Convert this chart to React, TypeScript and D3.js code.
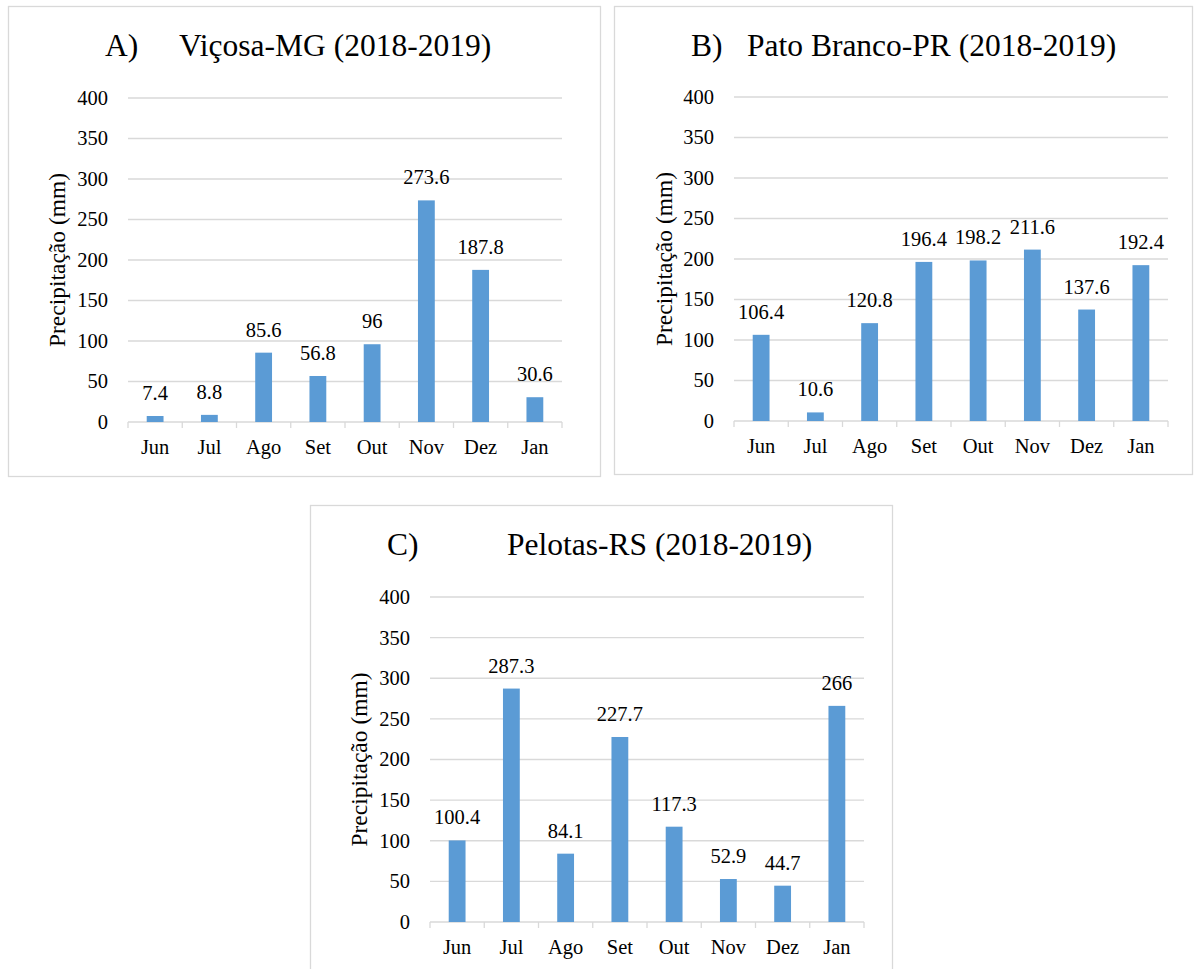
import React from "react";
import * as d3 from "d3";

const months = ["Jun", "Jul", "Ago", "Set", "Out", "Nov", "Dez", "Jan"];
const yTicks = [0, 50, 100, 150, 200, 250, 300, 350, 400];
const vicosa = [7.4, 8.8, 85.6, 56.8, 96, 273.6, 187.8, 30.6];
const patoBranco = [106.4, 10.6, 120.8, 196.4, 198.2, 211.6, 137.6, 192.4];
const pelotas = [100.4, 287.3, 84.1, 227.7, 117.3, 52.9, 44.7, 266];

const FONT = "Liberation Serif, Times New Roman, serif";
const BAR = "#5B9BD5";
const GRID = "#D9D9D9";
const SMALL = 20.5;

type PanelProps = {
  letter: string;
  title: string;
  values: number[];
  box: { x: number; y: number; w: number; h: number };
  plot: { x0: number; x1: number; yTop: number; yBottom: number };
  letterX: number;
  titleX: number;
  titleY: number;
  yLabelX: number;
};

function Panel({ letter, title, values, box, plot, letterX, titleX, titleY, yLabelX }: PanelProps) {
  const x = d3.scaleBand<string>().domain(months).range([plot.x0, plot.x1]).paddingInner(0).paddingOuter(0);
  const y = d3.scaleLinear().domain([0, 400]).range([plot.yBottom, plot.yTop]);
  const bw = x.bandwidth() * 0.31;
  return (
    <g>
      <rect x={box.x + 0.5} y={box.y + 0.5} width={box.w} height={box.h} fill="white" stroke={GRID} strokeWidth={1.3} />
      <text x={letterX} y={titleY} fontFamily={FONT} fontSize={31.5} fill="#000">{letter}</text>
      <text x={titleX} y={titleY} fontFamily={FONT} fontSize={31.5} fill="#000">{title}</text>
      {yTicks.map((t) => (
        <g key={t}>
          <line x1={plot.x0} x2={plot.x1} y1={y(t)} y2={y(t)} stroke={GRID} strokeWidth={1.3} />
          <text x={plot.x0 - 20} y={y(t)} dy="0.34em" textAnchor="end" fontFamily={FONT} fontSize={SMALL} fill="#000">{t}</text>
        </g>
      ))}
      {d3.range(months.length + 1).map((i) => {
        const xx = plot.x0 + i * x.bandwidth();
        return <line key={i} x1={xx} x2={xx} y1={plot.yBottom} y2={plot.yBottom + 6} stroke={GRID} strokeWidth={1.3} />;
      })}
      {months.map((m, i) => {
        const cx = (x(m) as number) + x.bandwidth() / 2;
        return (
          <g key={m}>
            <rect x={cx - bw / 2} y={y(values[i])} width={bw} height={plot.yBottom - y(values[i])} fill={BAR} />
            <text x={cx} y={y(values[i]) - 16} textAnchor="middle" fontFamily={FONT} fontSize={SMALL} fill="#000">{values[i]}</text>
            <text x={cx} y={plot.yBottom + 32} textAnchor="middle" fontFamily={FONT} fontSize={SMALL} fill="#000">{m}</text>
          </g>
        );
      })}
      <text
        transform={`translate(${yLabelX},${(plot.yTop + plot.yBottom) / 2}) rotate(-90)`}
        textAnchor="middle"
        dy="0.34em"
        fontFamily={FONT}
        fontSize={23.5}
        fill="#000"
      >
        Precipitação (mm)
      </text>
    </g>
  );
}

export default function App() {
  return (
    <svg width={1197} height={969} style={{ position: "absolute", left: 0, top: 0, background: "white" }}>
      <rect x={0} y={0} width={1197} height={969} fill="white" />
      <Panel
        letter="A)"
        title="Viçosa-MG (2018-2019)"
        values={vicosa}
        box={{ x: 8, y: 6, w: 592, h: 470 }}
        plot={{ x0: 128, x1: 562, yTop: 98, yBottom: 422 }}
        letterX={105}
        titleX={179}
        titleY={56}
        yLabelX={57}
      />
      <Panel
        letter="B)"
        title="Pato Branco-PR (2018-2019)"
        values={patoBranco}
        box={{ x: 614, y: 6, w: 578, h: 468 }}
        plot={{ x0: 734, x1: 1168, yTop: 97, yBottom: 421 }}
        letterX={691}
        titleX={747}
        titleY={56}
        yLabelX={664}
      />
      <Panel
        letter="C)"
        title="Pelotas-RS (2018-2019)"
        values={pelotas}
        box={{ x: 310, y: 505, w: 582, h: 480 }}
        plot={{ x0: 430, x1: 864, yTop: 597, yBottom: 922 }}
        letterX={387}
        titleX={507}
        titleY={555}
        yLabelX={359}
      />
    </svg>
  );
}
